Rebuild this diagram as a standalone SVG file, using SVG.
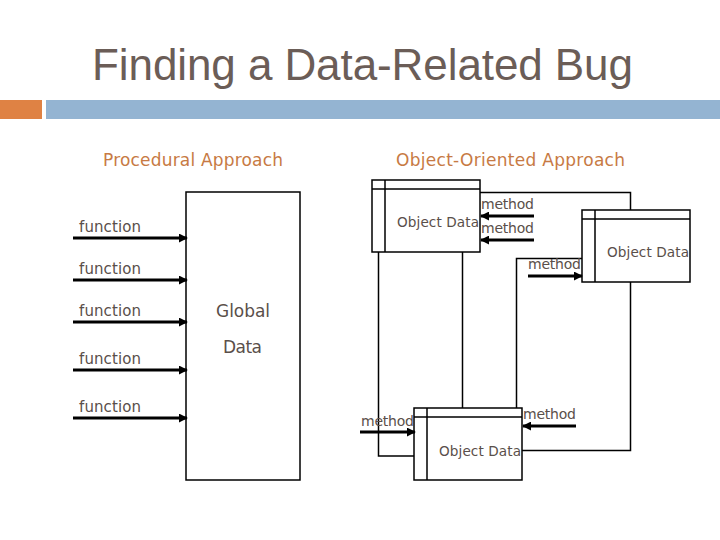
<svg xmlns="http://www.w3.org/2000/svg" width="720" height="540" viewBox="0 0 720 540">
<defs>
<style>
.title{font-family:"Liberation Sans",Arial,sans-serif;font-size:44px;fill:#6b5d57}
.head{font-family:"DejaVu Sans",Verdana,sans-serif;font-size:17px;fill:#c77a44}
.lbl{font-family:"DejaVu Sans",Verdana,sans-serif;font-size:15px;fill:#5a4f4a}
.mth{font-family:"DejaVu Sans",Verdana,sans-serif;font-size:14px;fill:#5a4f4a}
.big{font-family:"DejaVu Sans",Verdana,sans-serif;font-size:17px;fill:#5a4f4a}
.sm{font-family:"DejaVu Sans",Verdana,sans-serif;font-size:13.6px;fill:#5a4f4a}
.box{fill:#fff;stroke:#000;stroke-width:1.5}
.ln{fill:none;stroke:#000;stroke-width:1.5}
.arr{fill:none;stroke:#000;stroke-width:3;marker-end:url(#ah)}
</style>
<marker id="ah" viewBox="0 0 10 10" refX="9" refY="5" markerWidth="3" markerHeight="3" orient="auto" markerUnits="strokeWidth">
<path d="M0,0 L10,5 L0,10 z" fill="#000"/>
</marker>
</defs>
<rect width="720" height="540" fill="#fff"/>
<text class="title" x="92" y="80" textLength="541">Finding a Data-Related Bug</text>
<rect x="0" y="100" width="42" height="19" fill="#df8244"/>
<rect x="46" y="100" width="674" height="19" fill="#94b4d2"/>
<text class="head" x="103" y="166" textLength="180">Procedural Approach</text>
<text class="head" x="396" y="166" textLength="229">Object-Oriented Approach</text>

<g id="global-data">
<rect class="box" x="186" y="192" width="114" height="288"/>
<text class="big" x="216" y="317" textLength="54">Global</text>
<text class="big" x="223" y="353" textLength="39">Data</text>
</g>

<g id="functions">
<text class="lbl" x="79" y="232" textLength="62">function</text>
<text class="lbl" x="79" y="274" textLength="62">function</text>
<text class="lbl" x="79" y="316" textLength="62">function</text>
<text class="lbl" x="79" y="364" textLength="62">function</text>
<text class="lbl" x="79" y="412" textLength="62">function</text>
</g>

<g id="object1">
<rect class="box" x="372" y="180" width="108" height="72"/>
<path class="ln" d="M372,189 H480 M385,180 V252"/>
<text class="sm" x="397" y="227" textLength="82">Object Data</text>
</g>

<g id="object2">
<rect class="box" x="582" y="210" width="108" height="72"/>
<path class="ln" d="M582,219 H690 M595,210 V282"/>
<text class="sm" x="607" y="257" textLength="82">Object Data</text>
</g>

<g id="object3">
<rect class="box" x="414" y="408" width="108" height="72"/>
<path class="ln" d="M414,417 H522 M427,408 V480"/>
<text class="sm" x="439" y="456" textLength="82">Object Data</text>
</g>

<g id="connectors">
<line class="arr" x1="73" y1="238" x2="187" y2="238"/>
<line class="arr" x1="73" y1="280" x2="187" y2="280"/>
<line class="arr" x1="73" y1="322" x2="187" y2="322"/>
<line class="arr" x1="73" y1="370" x2="187" y2="370"/>
<line class="arr" x1="73" y1="418" x2="187" y2="418"/>

<path class="ln" d="M480,192.5 H630.5 V210"/>
<path class="ln" d="M630.5,282 V450.5 H522"/>
<path class="ln" d="M582,258.5 H516.5 V408"/>
<path class="ln" d="M462.5,252 V408"/>
<path class="ln" d="M378.5,252 V456 H414"/>

<line class="arr" x1="534" y1="216" x2="481" y2="216"/>
<line class="arr" x1="534" y1="240" x2="481" y2="240"/>
<line class="arr" x1="528" y1="276" x2="582" y2="276"/>
<line class="arr" x1="360" y1="432" x2="415" y2="432"/>
<line class="arr" x1="576" y1="426" x2="523" y2="426"/>
</g>

<g id="method-labels">
<text class="mth" x="481" y="209" textLength="53">method</text>
<text class="mth" x="481" y="233" textLength="53">method</text>
<text class="mth" x="528" y="269" textLength="53">method</text>
<text class="mth" x="361" y="426" textLength="53">method</text>
<text class="mth" x="523" y="419" textLength="53">method</text>
</g>
</svg>
